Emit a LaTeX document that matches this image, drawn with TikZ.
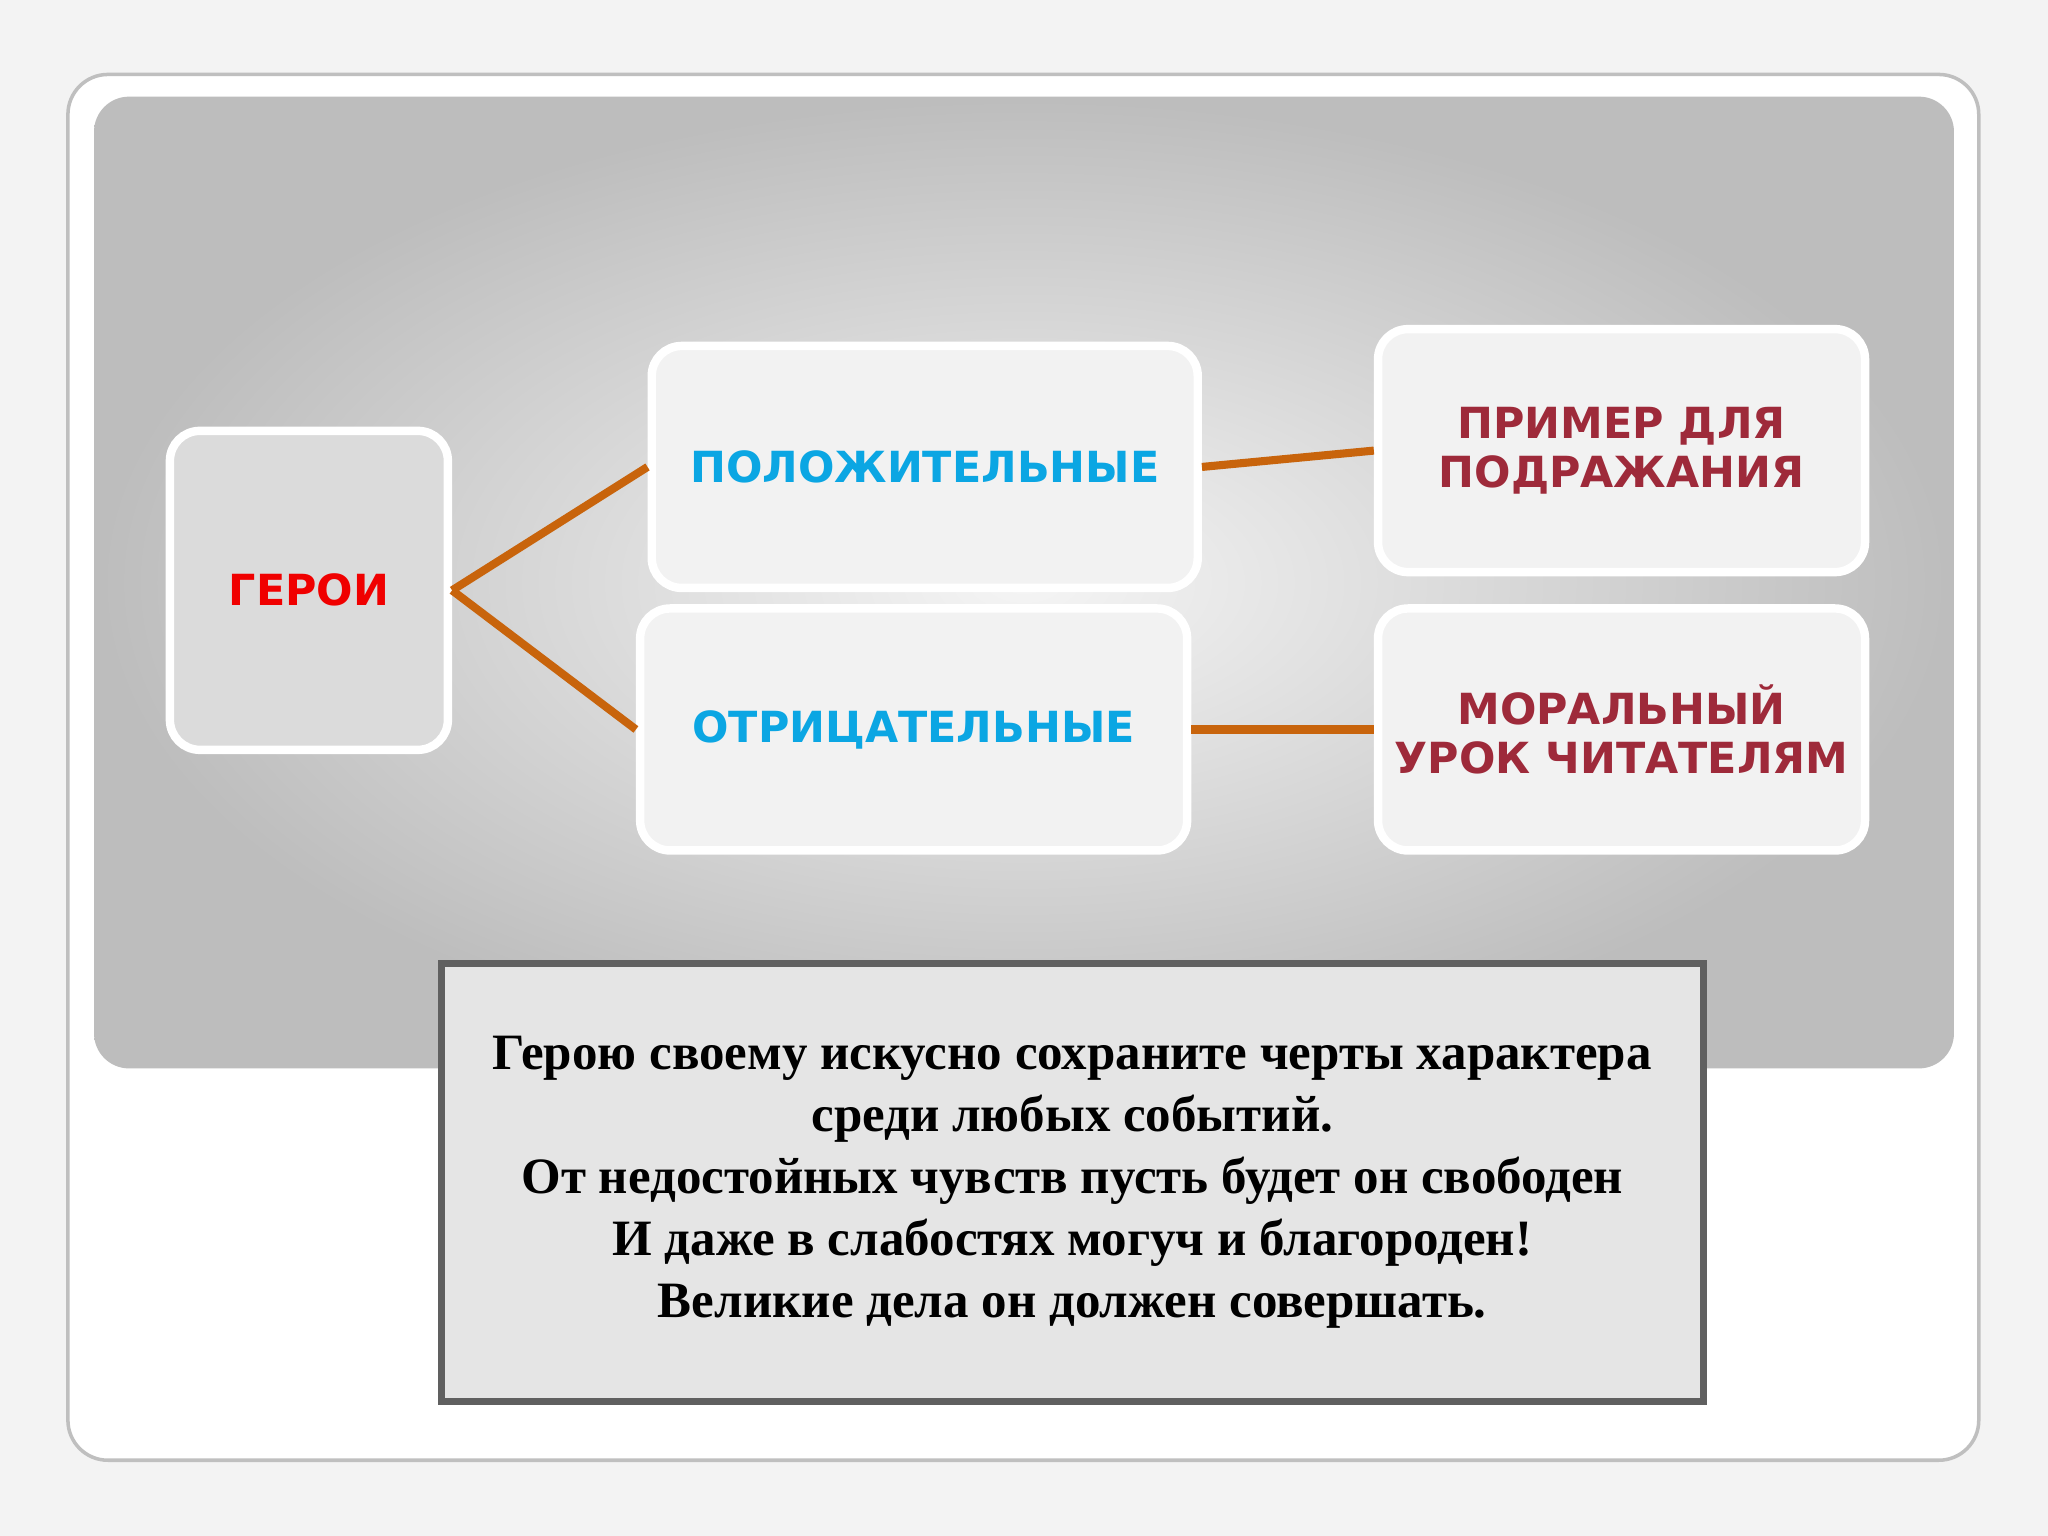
\documentclass[tikz,border=0pt]{standalone}
\usepackage{fontspec}
\setmainfont{Liberation Serif}
\newfontfamily\boxfont{DejaVu Sans}
\definecolor{bgc}{HTML}{F3F3F3}
\definecolor{linec}{HTML}{C8640C}
\definecolor{bluet}{HTML}{0BA6E3}
\definecolor{redt}{HTML}{F00000}
\definecolor{darkred}{HTML}{9E2A3A}
\begin{document}
\begin{tikzpicture}[x=0.01306cm,y=-0.01306cm,
  card/.style={draw=white,line width=2.4pt,rounded corners=0.3cm,fill=#1,align=center,inner sep=2pt,font=\boxfont\bfseries\fontsize{12.2}{14}\selectfont},
  conn/.style={draw=linec,line width=2.3pt}]
\fill[bgc] (0,0) rectangle (1568,1176);
\useasboundingbox (0,0) rectangle (1568,1176);
\draw[fill=white,draw=gray!50,line width=1pt,rounded corners=0.4cm] (52,57) rectangle (1515,1118);
\shade[inner color=gray!8,outer color=gray!52,rounded corners=0.35cm] (72,74) rectangle (1496,818);
\node[card=gray!28,text=redt,minimum width=2.78cm,minimum height=3.19cm] (g) at (236.5,452) {ГЕРОИ};
\node[card=gray!10,text=bluet,minimum width=5.46cm,minimum height=2.42cm] (p) at (708,357.5) {ПОЛОЖИТЕЛЬНЫЕ};
\node[card=gray!10,text=bluet,minimum width=5.47cm,minimum height=2.42cm] (o) at (699.5,558.5) {ОТРИЦАТЕЛЬНЫЕ};
\node[card=gray!10,text=darkred,minimum width=4.87cm,minimum height=2.43cm] (pr) at (1241.5,345) {ПРИМЕР ДЛЯ\\ПОДРАЖАНИЯ};
\node[card=gray!10,text=darkred,minimum width=4.87cm,minimum height=2.42cm] (m) at (1241.5,558.5) {МОРАЛЬНЫЙ\\УРОК ЧИТАТЕЛЯМ};
\draw[conn] (g.east) -- (p.west);
\draw[conn] (g.east) -- (o.west);
\draw[conn] (p.east) -- (pr.west);
\draw[conn] (o.east) -- (m.west);
\node[draw=gray!75!black,line width=2pt,fill=gray!20,minimum width=12.62cm,minimum height=4.38cm,align=center,font=\bfseries\fontsize{14.5}{17.6}\selectfont] (q) at (821,905)
{Герою своему искусно сохраните черты характера\\среди любых событий.\\От недостойных чувств пусть будет он свободен\\И даже в слабостях могуч и благороден!\\Великие дела он должен совершать.};
\end{tikzpicture}
\end{document}
